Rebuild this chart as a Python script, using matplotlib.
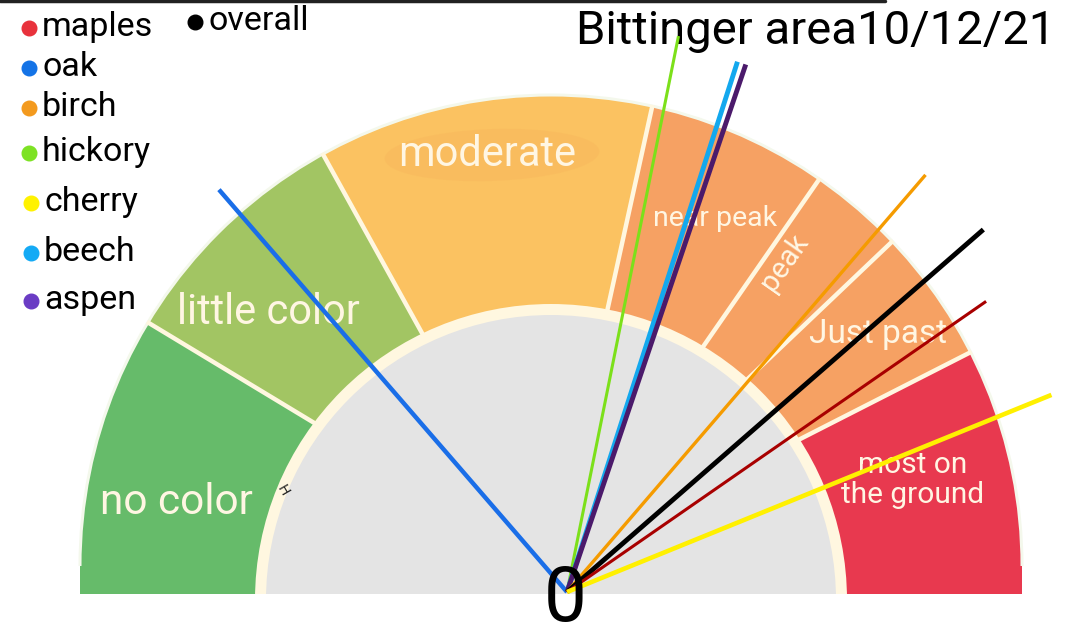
import numpy as np
import matplotlib
matplotlib.use("Agg")
import matplotlib.pyplot as plt
from matplotlib.patches import Wedge, Circle, Rectangle, Ellipse

# ---------------- data ----------------
sectors = ["no color", "little color", "moderate", "near peak", "peak", "Just past", "most on\nthe ground"]
sector_bounds = [0, 17.3, 33.9, 56.9, 69.3, 75.8, 85.0, 100]   # gauge scale 0..100
sector_colors = ["#66BB6A", "#A2C563", "#FBC261", "#F6A163", "#F6A163", "#F6A163", "#E8394F"]

species = ["maples", "oak", "birch", "hickory", "cherry", "beech", "aspen", "overall"]
legend_colors = ["#E8323C", "#1473E6", "#F39A1E", "#7DE224", "#FFF200", "#14AAF5", "#6A3CC4", "#000000"]
needle_values = [80.7, 27.3, 72.6, 56.3, 87.7, 59.9, 60.4, 77.2]
needle_colors = ["#A80000", "#1A6EE8", "#F59B00", "#7CE01A", "#FFF000", "#13A8EE", "#4B1A6B", "#000000"]

title = "Bittinger area10/12/21"

# ---------------- styles ----------------
needle_len = [510, 532, 550, 567, 523, 557, 557, 552]
needle_lw = [2.2, 3.2, 2.4, 2.2, 3.3, 3.5, 3.5, 3.5]
draw_order = [1, 3, 5, 6, 2, 7, 0, 4]

W, H = 1080, 637
fig = plt.figure(figsize=(W / 100, H / 100), dpi=100)
ax = fig.add_axes([0, 0, 1, 1])
ax.set_xlim(0, W)
ax.set_ylim(0, H)
ax.axis("off")

def py(y):  # pixel row -> data y
    return H - y

cx, cy = 551, py(566)       # outer gauge centre
R = 471
icx, icy = 551, py(600)     # inner disc centre
y_bottom = py(594)
cream = "#FFF7E0"
FAM = ["Roboto", "DejaVu Sans"]

def ang(v):
    return 180 - v / 100 * 180

# sectors
for i, col in enumerate(sector_colors):
    a0, a1 = ang(sector_bounds[i + 1]), ang(sector_bounds[i])
    ax.add_patch(Wedge((cx, cy), R, a0, a1, facecolor=col, edgecolor="none", zorder=1))
# extensions below centre
ax.add_patch(Rectangle((cx - R, y_bottom), 250, cy - y_bottom, facecolor=sector_colors[0], edgecolor="none", zorder=1))
ax.add_patch(Rectangle((cx + R - 250, y_bottom), 250, cy - y_bottom, facecolor=sector_colors[-1], edgecolor="none", zorder=1))
# outer light rim
ax.add_patch(Wedge((cx, cy), R + 1.5, 0, 180, width=3, facecolor="#F4F8EC", edgecolor="none", zorder=1.5))

# dividers
for b in sector_bounds[1:-1]:
    t = np.radians(ang(b))
    ax.plot([cx, cx + (R + 1) * np.cos(t)], [cy, cy + (R + 1) * np.sin(t)],
            color=cream, lw=3.2, zorder=2, solid_capstyle="butt")

# smudge behind "moderate"
ax.add_patch(Ellipse((492, py(155)), 215, 52, angle=2, facecolor="#F6AE57", edgecolor="none",
                     alpha=0.25, zorder=2.2))

# inner disc
ax.add_patch(Circle((icx, icy), 296, facecolor=cream, edgecolor="none", zorder=3))
ax.add_patch(Circle((icx, icy), 285, facecolor="#E4E4E4", edgecolor="none", zorder=3.1))
# cut bottom
ax.add_patch(Rectangle((0, 0), W, y_bottom, facecolor="white", edgecolor="none", zorder=3.5))

# sector labels
lab_kw = dict(color="#FFF6E3", ha="center", va="center", family=FAM, zorder=4)
ax.text(176, py(502), sectors[0], fontsize=30.5, **lab_kw)
ax.text(268, py(313), sectors[1], fontsize=30, **lab_kw)
ax.text(487, py(155), sectors[2], fontsize=30, **lab_kw)
ax.text(715, py(219), sectors[3], fontsize=20.5, **lab_kw)
ax.text(784, py(262), sectors[4], fontsize=21, rotation=55, **lab_kw)
ax.text(878, py(334), sectors[5], fontsize=24, **lab_kw)
ax.text(913, py(480), sectors[6], fontsize=21.5, linespacing=1.05, **lab_kw)
ax.text(283, py(490), "H", fontsize=10, rotation=-60, color="#222222", ha="center", va="center", zorder=4)

# needles
ox, oy = 567, py(592)
for k in draw_order:
    t = np.radians(ang(needle_values[k]))
    L = needle_len[k]
    ax.plot([ox, ox + L * np.cos(t)], [oy, oy + L * np.sin(t)], color=needle_colors[k],
            lw=needle_lw[k], zorder=5, solid_capstyle="butt")

# big 0
ax.text(565, py(600), "0", fontsize=55, color="black", ha="center", va="center",
        family=FAM, zorder=6)

# legend
leg_pos = [(29, 28), (29, 68), (29, 108), (29, 153), (31, 203), (31, 253), (31, 301), (195, 22)]
for (x, y), name, col in zip(leg_pos, species, legend_colors):
    ax.plot([x], [py(y)], "o", ms=10.5, color=col, zorder=6)
    ax.text(x + 13, py(y) + 1, name, fontsize=24.5, color="black", ha="left", va="center",
            family=FAM, zorder=6)

# title
ax.text(1055, py(31), title, fontsize=34, color="black", ha="right", va="center",
        family=FAM, zorder=4)

# top dark border
ax.plot([0, 885], [py(1), py(1)], color="#222222", lw=2.5, zorder=7, solid_capstyle="round")

fig.savefig("out.png", dpi=100)
